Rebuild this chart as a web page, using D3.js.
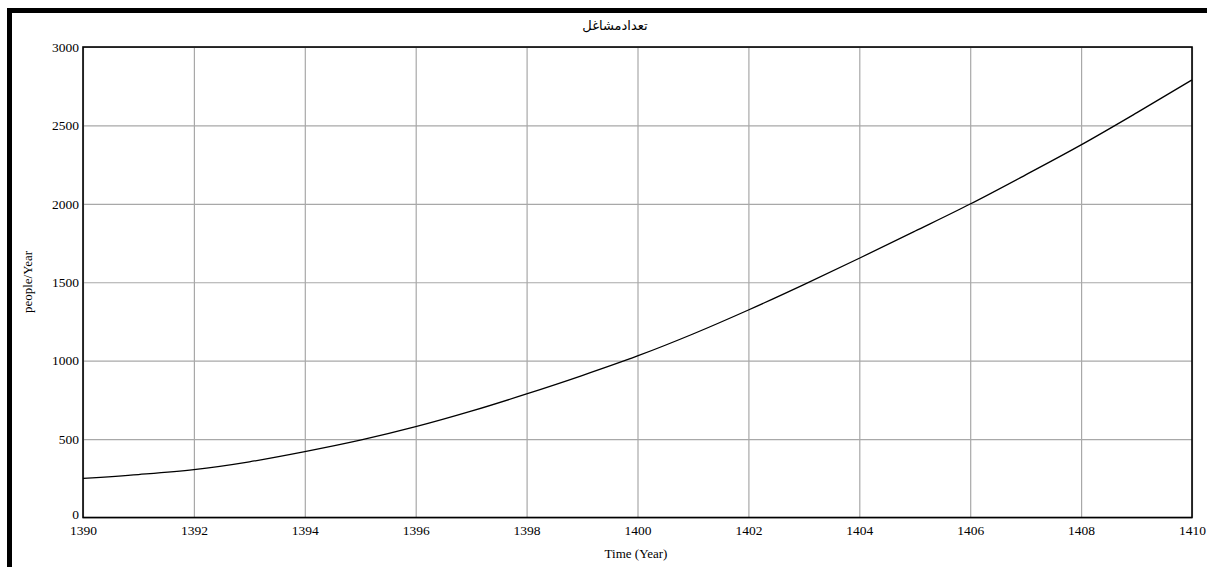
<!DOCTYPE html>
<html>
<head>
<meta charset="utf-8">
<script src="https://cdn.jsdelivr.net/npm/d3@7"></script>
<style>
  body { margin: 0; background: #fff; }
  svg text { font-family: "Liberation Serif", "Times New Roman", serif; fill: #000; }
</style>
</head>
<body>
<div class="graphHolder"></div>
<script>
let w = 1207,
  h = 567,
  plotLeft = 83,
  plotTop = 47,
  plotRight = 1192,
  plotBottom = 517.5;

// data
let years = [1390, 1391, 1392, 1393, 1394, 1395, 1396, 1397, 1398, 1399, 1400,
  1401, 1402, 1403, 1404, 1405, 1406, 1407, 1408, 1409, 1410];
let jobs = [250, 274, 305, 355, 420, 493, 579, 678, 788, 905, 1030,
  1170, 1323, 1485, 1653, 1825, 1999, 2185, 2376, 2580, 2790];
let xTicks = [1390, 1392, 1394, 1396, 1398, 1400, 1402, 1404, 1406, 1408, 1410];
let yTicks = [0, 500, 1000, 1500, 2000, 2500, 3000];

let svg = d3.select(".graphHolder")
  .append("svg")
  .attr("width", w)
  .attr("height", h)
  .style("display", "block");

// cropped outer frame
svg.append("rect")
  .attr("x", 9.5).attr("y", 10.5)
  .attr("width", w + 20).attr("height", h + 20)
  .attr("fill", "none")
  .attr("stroke", "#000")
  .attr("stroke-width", 5);

let xScale = d3.scaleLinear()
  .domain([1390, 1410])
  .range([plotLeft, plotRight]);

let yScale = d3.scaleLinear()
  .domain([0, 3000])
  .range([plotBottom, plotTop]);

// grid
svg.append("g")
  .attr("transform", "translate(0," + plotBottom + ")")
  .call(d3.axisBottom(xScale).tickValues(xTicks).tickSize(-(plotBottom - plotTop)).tickFormat(""))
  .call(g => g.select(".domain").remove())
  .selectAll("line").attr("stroke", "#a8a8a8").attr("stroke-width", 1.2);

svg.append("g")
  .attr("transform", "translate(" + plotLeft + ",0)")
  .call(d3.axisLeft(yScale).tickValues(yTicks).tickSize(-(plotRight - plotLeft)).tickFormat(""))
  .call(g => g.select(".domain").remove())
  .selectAll("line").attr("stroke", "#a8a8a8").attr("stroke-width", 1.2);

// tick labels
let xAxis = svg.append("g")
  .attr("transform", "translate(0," + plotBottom + ")")
  .call(d3.axisBottom(xScale).tickValues(xTicks).tickSize(0).tickPadding(8).tickFormat(d3.format("d")));
xAxis.select(".domain").remove();
xAxis.selectAll("text").style("font-size", "13.5px").style("font-family", "Liberation Serif");

let yAxis = svg.append("g")
  .attr("transform", "translate(" + plotLeft + ",0)")
  .call(d3.axisLeft(yScale).tickValues(yTicks).tickSize(0).tickPadding(4).tickFormat(d3.format("d")));
yAxis.select(".domain").remove();
yAxis.selectAll("text")
  .attr("dy", d => d === 0 ? "0.1em" : "0.32em")
  .style("font-size", "13.5px").style("font-family", "Liberation Serif");

// plot frame
svg.append("rect")
  .attr("x", plotLeft).attr("y", plotTop)
  .attr("width", plotRight - plotLeft).attr("height", plotBottom - plotTop)
  .attr("fill", "none")
  .attr("stroke", "#000")
  .attr("stroke-width", 1.6);

// the curve
let line = d3.line()
  .x((d, i) => xScale(years[i]))
  .y(d => yScale(d))
  .curve(d3.curveMonotoneX);

svg.append("path")
  .datum(jobs)
  .attr("d", line)
  .attr("fill", "none")
  .attr("stroke", "#000")
  .attr("stroke-width", 1.3);

// titles
svg.append("text")
  .attr("x", 615).attr("y", 30)
  .attr("text-anchor", "middle")
  .style("font-family", "DejaVu Sans")
  .style("font-size", "13px")
  .text("تعدادمشاغل");

svg.append("text")
  .attr("transform", "rotate(-90)")
  .attr("x", -282).attr("y", 32)
  .attr("text-anchor", "middle")
  .style("font-size", "13px")
  .text("people/Year");

svg.append("text")
  .attr("x", 636).attr("y", 558)
  .attr("text-anchor", "middle")
  .style("font-size", "13px")
  .text("Time (Year)");
</script>
</body>
</html>
